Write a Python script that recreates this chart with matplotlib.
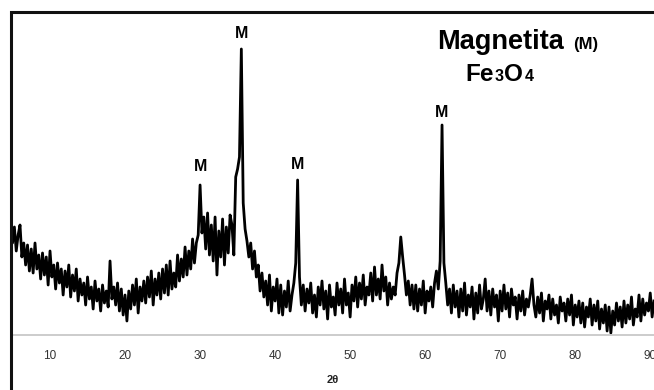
import numpy as np
import matplotlib
matplotlib.use("Agg")
from matplotlib import pyplot as plt
from matplotlib.lines import Line2D

plt.rcParams['font.family'] = ['Liberation Sans', 'DejaVu Sans']

# intensity, one row = 2 degrees (0.25 deg step), first row starts at 4.75
start_angle = 4.75
step = 0.25
intensity = [
    112, 92, 108, 84, 100, 110, 78, 92,      # 4.75
    70, 90, 64, 86, 62, 92, 66, 80,          # 6.75
    56, 82, 60, 78, 50, 84, 58, 70,          # 8.75
    46, 72, 52, 66, 40, 64, 48, 70,          # 10.75
    38, 60, 44, 66, 34, 56, 40, 52,          # 12.75
    30, 58, 36, 48, 26, 54, 34, 46,          # 14.75
    24, 50, 32, 44, 28, 74, 36, 48,          # 16.75
    30, 52, 24, 46, 20, 40, 14, 44,          # 18.75
    26, 50, 30, 56, 22, 48, 34, 54,          # 20.75
    32, 58, 38, 64, 30, 56, 40, 62,          # 22.75
    36, 66, 42, 70, 40, 74, 46, 62,          # 24.75
    48, 80, 54, 76, 58, 88, 60, 84,          # 26.75
    66, 96, 72, 92, 100, 150, 102, 118,      # 28.75
    86, 122, 80, 110, 74, 118, 60, 104,      # 30.75
    78, 116, 70, 108, 82, 120, 110, 80,      # 32.75
    158, 166, 178, 286, 132, 106, 94, 78,    # 34.75
    92, 66, 84, 58, 70, 44, 62, 38,          # 36.75
    54, 30, 60, 24, 48, 34, 56, 22,          # 38.75
    50, 20, 44, 28, 54, 24, 40, 52,          # 40.75
    72, 155, 58, 30, 50, 24, 46, 32,         # 42.75
    52, 22, 40, 18, 48, 30, 54, 26,          # 44.75
    44, 16, 50, 28, 38, 20, 52, 30,          # 46.75
    46, 22, 56, 30, 42, 18, 50, 34,          # 48.75
    58, 28, 52, 36, 60, 30, 48, 40,          # 50.75
    62, 34, 68, 40, 56, 36, 70, 44,          # 52.75
    58, 30, 52, 36, 48, 40, 62, 72,          # 54.75
    98, 78, 60, 40, 54, 30, 50, 26,          # 56.75
    50, 24, 46, 30, 54, 22, 44, 34,          # 58.75
    48, 28, 52, 64, 46, 74, 210, 72,         # 60.75
    52, 30, 46, 22, 50, 28, 44, 18,          # 62.75
    46, 24, 52, 20, 40, 28, 48, 16,          # 64.75
    42, 22, 50, 26, 36, 56, 24, 44,          # 66.75
    20, 46, 28, 40, 14, 44, 24, 50,          # 68.75
    26, 42, 18, 46, 30, 38, 16, 40,          # 70.75
    24, 44, 20, 36, 28, 40, 56, 30,          # 72.75
    18, 38, 22, 42, 14, 34, 26, 40,          # 74.75
    16, 36, 20, 30, 12, 38, 24, 32,          # 76.75
    14, 36, 20, 40, 10, 30, 18, 34,          # 78.75
    12, 32, 8, 28, 18, 36, 10, 30,           # 80.75
    14, 34, 6, 26, 12, 30, 4, 28,            # 82.75
    2, 24, 10, 32, 14, 28, 8, 34,            # 84.75
    12, 30, 16, 38, 10, 26, 18, 40,          # 86.75
    14, 36, 20, 32, 24, 42, 18, 34,          # 88.75
]
two_theta = start_angle + step * np.arange(len(intensity))

xticks = [10, 20, 30, 40, 50, 60, 70, 80, 90]

# "M" markers above the magnetite reflections
peak_x = [30.0, 35.5, 43.0, 62.25]
label_y = [168, 301, 170, 222]

W, H = 654, 390
fig = plt.figure(figsize=(W / 100, H / 100), dpi=100)
ax = fig.add_axes([11 / W, (H - 335) / H, (W - 11) / W, (335 - 12) / H])

ax.plot(two_theta, intensity, color="black", lw=2.0)
ax.set_xlim(4.8, 90.5)
ax.set_ylim(0, 323)

for side in ["top", "right", "left"]:
    ax.spines[side].set_visible(False)
ax.spines["bottom"].set_color("#c8c8c8")
ax.spines["bottom"].set_linewidth(1.3)
ax.set_yticks([])
ax.set_xticks(xticks)
ax.tick_params(axis="x", length=0, pad=11, labelsize=8.5, labelcolor="#333333")
ax.set_xlabel("2θ", fontsize=8, fontweight="bold", labelpad=9, color="#222222")

for x, y in zip(peak_x, label_y):
    ax.text(x, y, "M", ha="center", va="center", fontsize=11.5, fontweight="bold")

# legend text in the upper right, pieces placed one after another
renderer = fig.canvas.get_renderer()

def text_run(x, y, pieces):
    for s, size, gap in pieces:
        t = fig.text(x / W, 1 - y / H, s, fontsize=size, fontweight="bold", va="baseline")
        x = t.get_window_extent(renderer).x1 + gap

text_run(437, 49, [("Magnetita", 19.5, 9), ("(M)", 12, 0)])
text_run(465, 81, [("Fe", 17.5, 1), ("3", 11.5, 1), ("O", 17.5, 1), ("4", 11.5, 0)])

# outer frame (left and top edges)
fig.add_artist(Line2D([11 / W, 11 / W, 1], [0, 1 - 12 / H, 1 - 12 / H],
                      transform=fig.transFigure, color="#111111", lw=2.2,
                      solid_joinstyle="miter"))

fig.savefig("out.png", dpi=100)
